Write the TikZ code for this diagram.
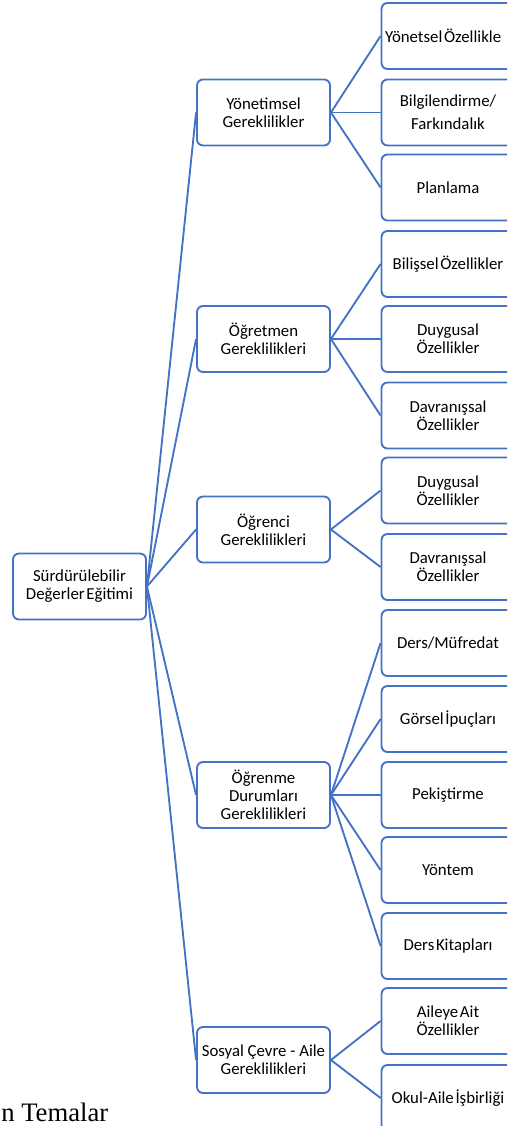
\documentclass[tikz,border=0pt]{standalone}
\usepackage{fontspec}
\setmainfont{Carlito}
\newfontfamily\capfont{Liberation Serif}
\definecolor{sablue}{HTML}{4472C4}
\begin{document}
\begin{tikzpicture}[x=0.75pt,y=-0.75pt,
  box/.style={draw=sablue, line width=1.4pt, rounded corners=4.5pt,
    minimum width=99.75pt, minimum height=49.5pt, inner sep=1pt,
    align=center, font=\fontsize{12.6pt}{13.5pt}\selectfont, text=black, fill=white},
  tight/.style={execute at begin node={\spaceskip=0.1em\relax}},
  link/.style={draw=sablue, line width=1.4pt}]
\useasboundingbox (0,0) rectangle (507,1126);
\clip (0,0) rectangle (507,1126);
% root
\node[box, tight] (root) at (79.5,586.5) {Sürdürülebilir\\Değerler Eğitimi};
% level 2
\node[box] (a) at (263.5,112.5) {Yönetimsel\\Gereklilikler};
\node[box] (b) at (263.5,339) {Öğretmen\\Gereklilikleri};
\node[box] (c) at (263.5,529.5) {Öğrenci\\Gereklilikleri};
\node[box] (d) at (263.5,795) {Öğrenme\\Durumları\\Gereklilikleri};
\node[box] (e) at (263.5,1060) {Sosyal Çevre - Aile\\Gereklilikleri};
% level 3
\node[box, tight, text width=94.35pt, align=left] (a1) at (448,36) {Yönetsel Özellikle};
\node[box, font=\fontsize{12.6pt}{17.25pt}\selectfont] (a2) at (448,112.5) {Bilgilendirme/\\Farkındalık};
\node[box] (a3) at (448,187.5) {Planlama};
\node[box, tight] (b1) at (448,264) {Bilişsel Özellikler};
\node[box] (b2) at (448,339) {Duygusal\\Özellikler};
\node[box] (b3) at (448,415.5) {Davranışsal\\Özellikler};
\node[box] (c1) at (448,490.5) {Duygusal\\Özellikler};
\node[box] (c2) at (448,567) {Davranışsal\\Özellikler};
\node[box] (d1) at (448,643) {Ders/Müfredat};
\node[box, tight] (d2) at (448,719) {Görsel İpuçları};
\node[box] (d3) at (448,795) {Pekiştirme};
\node[box] (d4) at (448,870) {Yöntem};
\node[box, tight] (d5) at (448,946) {Ders Kitapları};
\node[box, tight] (e1) at (448,1021) {Aileye Ait\\Özellikler};
\node[box, tight] (e2) at (448,1098) {Okul-Aile İşbirliği};
% caption fragment
\node[anchor=base west, inner sep=0pt, font=\fontsize{20pt}{22pt}\capfont, text=black] (cap) at (1,1121) {n Temalar};
% connectors
\foreach \n in {a,b,c,d,e} \draw[link] (root.east) -- (\n.west);
\foreach \n in {a1,a2,a3} \draw[link] (a.east) -- (\n.west);
\foreach \n in {b1,b2,b3} \draw[link] (b.east) -- (\n.west);
\foreach \n in {c1,c2} \draw[link] (c.east) -- (\n.west);
\foreach \n in {d1,d2,d3,d4,d5} \draw[link] (d.east) -- (\n.west);
\foreach \n in {e1,e2} \draw[link] (e.east) -- (\n.west);
\end{tikzpicture}
\end{document}
